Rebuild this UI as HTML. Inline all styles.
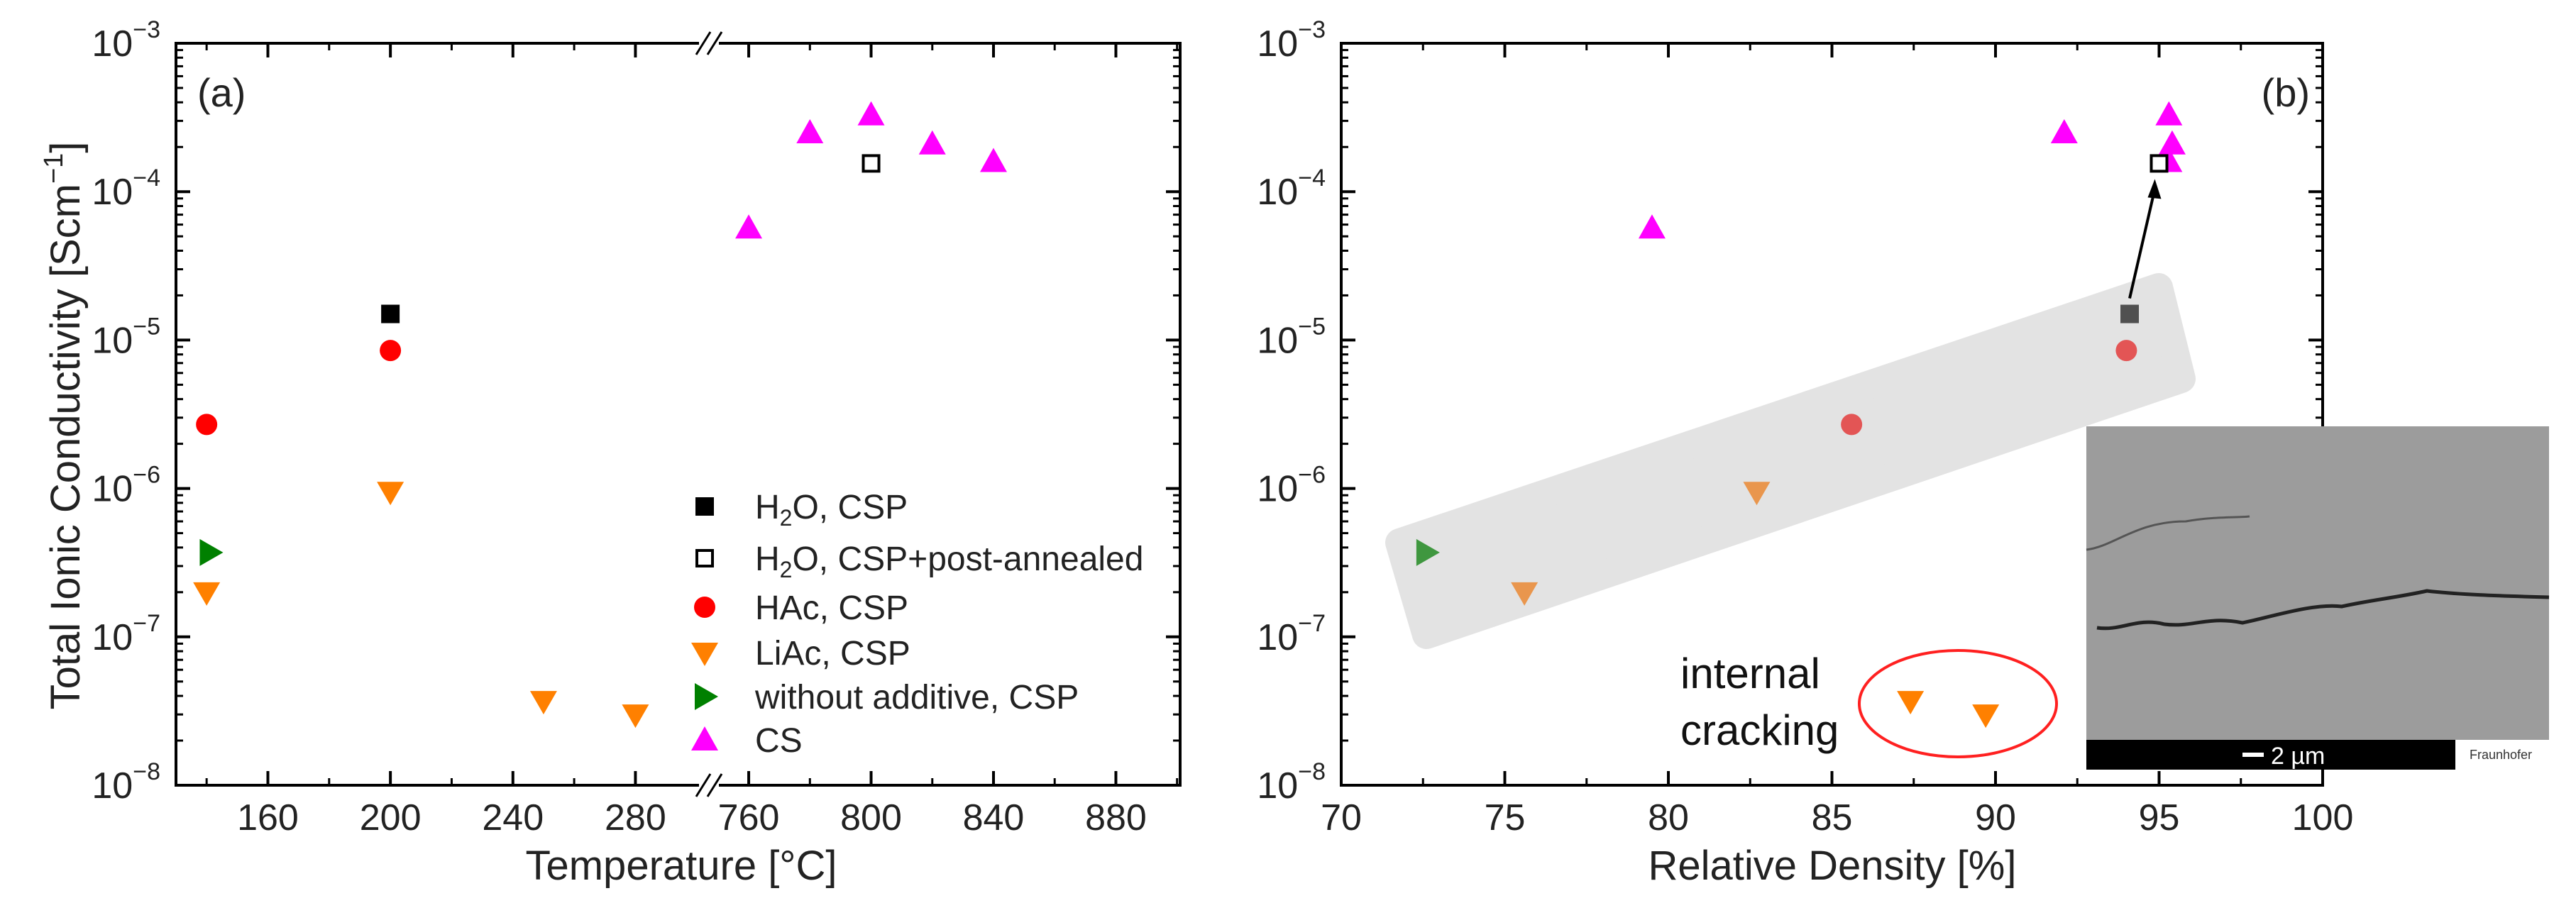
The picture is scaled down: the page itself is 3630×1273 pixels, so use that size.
<!DOCTYPE html>
<html><head><meta charset="utf-8"><style>
html,body{margin:0;padding:0;background:#fff;}
svg{display:block;font-family:"Liberation Sans",Arial,sans-serif;}
</style></head><body>
<svg id="fig" width="3630" height="1273" viewBox="0 0 3630 1273" xmlns="http://www.w3.org/2000/svg">
<g id="bg"></g>
<g id="axesA"></g><g id="axesB"></g><g id="marks"></g>
</svg>
<script>
// ---- data (panel a: temperature) ----
const h2oT=[200], h2oS=[1.5e-5];
const annT=[800], annS=[1.55e-4];
const hacT=[140,200], hacS=[2.7e-6,8.5e-6];
const liacT=[140,200,250,280], liacS=[2e-7,9.5e-7,3.7e-8,3e-8];
const noaddT=[141], noaddS=[3.7e-7];
const csT=[760,780,800,820,840], csS=[5.7e-5,2.5e-4,3.3e-4,2.1e-4,1.6e-4];
// ---- data (panel b: density) ----
const h2oD=[94.1], annD=[95.0], hacD=[85.6,94.0], liacD=[75.6,82.7,87.4,89.7], noaddD=[72.6], csD=[79.5,92.1,95.3,95.4,95.3];
const xTicksA1=[160,200,240,280], xTicksA2=[760,800,840,880];
const xTicksB=[70,75,80,85,90,95,100];
const yDecades=[-3,-4,-5,-6,-7,-8];
const legendLabels=["H2O, CSP","H2O, CSP+post-annealed","HAc, CSP","LiAc, CSP","without additive, CSP","CS"];

const NS="http://www.w3.org/2000/svg";
function mk(tag,attrs,parent,text){const e=document.createElementNS(NS,tag);for(const k in attrs)e.setAttribute(k,attrs[k]);if(text!==undefined)e.textContent=text;parent.appendChild(e);return e;}
const plotTop=61,plotBot=1107;
function y(v){return plotTop+(-3-Math.log10(v))*(plotBot-plotTop)/5;}
const AL=248,AB=999,AR=1663;
function xA(t){return t<=500? AL+(t-130)*(AB-AL)/(304-130) : AB+(t-747)*(AR-AB)/(901-747);}
const BL=1890,BR=3273;
function xB(d){return BL+(d-70)*(BR-BL)/30;}

const bg=document.getElementById('bg'),gA=document.getElementById('axesA'),gB=document.getElementById('axesB'),gm=document.getElementById('marks');

let band=mk('polygon',{points:"1972,765 3042,405 3074,534 2010,895",fill:"#e3e3e3",stroke:"#e3e3e3","stroke-width":"40","stroke-linejoin":"round"},bg);



function yAxis(g,L,R){
  for(const d of yDecades){
    const yy=y(Math.pow(10,d));
    mk('line',{x1:L,x2:L+20,y1:yy,y2:yy,stroke:"#000","stroke-width":4},g);
    mk('line',{x1:R,x2:R-20,y1:yy,y2:yy,stroke:"#000","stroke-width":4},g);
    if(d>-8)for(let m=2;m<10;m++){const y2=y(m*Math.pow(10,d-1));
      mk('line',{x1:L,x2:L+10,y1:y2,y2:y2,stroke:"#000","stroke-width":3},g);
      mk('line',{x1:R,x2:R-10,y1:y2,y2:y2,stroke:"#000","stroke-width":3},g);}
    const t=mk('text',{x:L-22,y:yy+18,"text-anchor":"end","font-size":52,fill:"#222"},g);
    
    
    t.appendChild(document.createTextNode('10'));
    mk('tspan',{dy:-26,"font-size":34},t,"\u2212"+(-d));
  }
}
function xTick(g,xx,label,minor){
  mk('line',{x1:xx,x2:xx,y1:plotBot,y2:plotBot-(minor?10:20),stroke:"#000","stroke-width":minor?3:4},g);
  mk('line',{x1:xx,x2:xx,y1:plotTop,y2:plotTop+(minor?10:20),stroke:"#000","stroke-width":minor?3:4},g);
  if(label!==null){const t=mk('text',{x:xx,y:1170,"text-anchor":"middle","font-size":52,fill:"#222"},g,label);
    
    }
}
let fa=mk('rect',{x:AL,y:plotTop,width:AR-AL,height:plotBot-plotTop,fill:"none",stroke:"#000","stroke-width":4},gA);


yAxis(gA,AL,AR);
for(const t of xTicksA1){xTick(gA,xA(t),String(t),false);xTick(gA,xA(t-20),null,true);}
for(const t of xTicksA2){xTick(gA,xA(t),String(t),false);xTick(gA,xA(t+20),null,true);}
mk('rect',{x:AB-14,y:plotTop-20,width:28,height:40,fill:"#fff"},gA);
mk('rect',{x:AB-14,y:plotBot-20,width:28,height:40,fill:"#fff"},gA);
for(const yy of [plotTop,plotBot]){for(const dx of [-8,8])mk('line',{x1:AB+dx-10,y1:yy+16,x2:AB+dx+10,y2:yy-16,stroke:"#000","stroke-width":3},gA);}
let ya=mk('text',{transform:"translate(112,600) rotate(-90)","text-anchor":"middle","font-size":58,fill:"#222"},gA);


ya.appendChild(document.createTextNode('Total Ionic Conductivity [Scm'));
mk('tspan',{dy:-24,"font-size":38},ya,'\u22121');
mk('tspan',{dy:24},ya,']');
let xa=mk('text',{x:960,y:1240,"text-anchor":"middle","font-size":58,fill:"#222"},gA,'Temperature [°C]');


let la=mk('text',{x:278,y:150,"font-size":56,fill:"#222"},gA,'(a)');



let fb=mk('rect',{x:BL,y:plotTop,width:BR-BL,height:plotBot-plotTop,fill:"none",stroke:"#000","stroke-width":4},gB);


yAxis(gB,BL,BR);
for(const t of xTicksB){xTick(gB,xB(t),String(t),false);if(t<100)xTick(gB,xB(t+2.5),null,true);}
let xb=mk('text',{x:2582,y:1240,"text-anchor":"middle","font-size":58,fill:"#222"},gB,'Relative Density [%]');


let lb=mk('text',{x:3255,y:150,"text-anchor":"end","font-size":56,fill:"#222"},gB,'(b)');



function marker(g,type,cx,cy,color,name){
  let e;
  if(type==='sq')e=mk('rect',{x:cx-13,y:cy-13,width:26,height:26,fill:color},g);
  else if(type==='osq')e=mk('rect',{x:cx-11,y:cy-11,width:22,height:22,fill:"#fff",stroke:"#000","stroke-width":4},g);
  else if(type==='ci')e=mk('circle',{cx:cx,cy:cy,r:15,fill:color},g);
  else if(type==='dn')e=mk('polygon',{points:`${cx-19},${cy-14} ${cx+19},${cy-14} ${cx},${cy+19}`,fill:color},g);
  else if(type==='up')e=mk('polygon',{points:`${cx-19},${cy+15} ${cx+19},${cy+15} ${cx},${cy-19}`,fill:color},g);
  else if(type==='rt')e=mk('polygon',{points:`${cx-14},${cy-19} ${cx-14},${cy+19} ${cx+19},${cy}`,fill:color},g);
  
  
  return e;
}
const seriesA=[['sq',h2oT,h2oS,'#000','h2o-csp-point'],['osq',annT,annS,'#000','h2o-annealed-point'],['ci',hacT,hacS,'#ff0000','hac-csp-point'],['dn',liacT,liacS,'#ff8000','liac-csp-point'],['rt',noaddT,noaddS,'#008000','no-additive-point'],['up',csT,csS,'#ff00ff','cs-point']];
for(const s of seriesA)for(let i=0;i<s[1].length;i++)marker(gm,s[0],xA(s[1][i]),y(s[2][i]),s[3],s[4]);
const seriesB=[['up',csD,csS,'#ff00ff','cs-point-b'],['sq',h2oD,h2oS,'#505050','h2o-csp-point-b'],['ci',hacD,hacS,'#e35555','hac-csp-point-b'],['dn',liacD,liacS,'#ff8000','liac-csp-point-b'],['rt',noaddD,noaddS,'#3f973f','no-additive-point-b']];
for(const s of seriesB)for(let i=0;i<s[1].length;i++){
  let c=s[3]; if(s[0]==='dn'&&i<2)c='#e9964d';
  marker(gm,s[0],xB(s[1][i]),y(s[2][i]),c,s[4]);}
marker(gm,'osq',xB(annD[0]),y(annS[0]),'#000','h2o-annealed-point-b');
const ax1=xB(h2oD[0]),ay1=y(h2oS[0])-22,ax2=xB(annD[0])-6,ay2=y(annS[0])+22;
let ar=mk('line',{x1:ax1,y1:ay1,x2:ax2,y2:ay2+14,stroke:"#000","stroke-width":4},gm);


mk('polygon',{points:`${ax2},${ay2} ${ax2-10},${ay2+26} ${ax2+9},${ay2+28}`,fill:"#000"},gm);

const legTypes=[['sq','#000'],['osq','#000'],['ci','#ff0000'],['dn','#ff8000'],['rt','#008000'],['up','#ff00ff']];
const legY=[714,787,856,920,982,1043];
for(let i=0;i<6;i++){
  marker(gm,legTypes[i][0],993,legY[i],legTypes[i][1],'legend-marker');
  const t=mk('text',{x:1064,y:legY[i]+17,"font-size":48,fill:"#222"},gm);
  
  
  const lab=legendLabels[i];
  if(lab.startsWith('H2O')){t.appendChild(document.createTextNode('H'));mk('tspan',{dy:10,"font-size":32},t,'2');mk('tspan',{dy:-10},t,'O'+lab.slice(3));}
  else t.textContent=lab;
}
let el=mk('ellipse',{cx:2759,cy:992,rx:139,ry:75,fill:"none",stroke:"#ff2020","stroke-width":4},gm);


let a1=mk('text',{x:2368,y:970,"font-size":60,fill:"#111"},gm,'internal');


let a2=mk('text',{x:2368,y:1050,"font-size":60,fill:"#111"},gm,'cracking');



const ins=mk('g',{},gm);


mk('rect',{x:2940,y:601,width:652,height:442,fill:"#9c9c9c"},ins);
mk('path',{d:"M2955,885 C2990,890 3010,870 3050,880 C3090,885 3110,868 3160,878 C3200,870 3260,850 3300,855 C3340,846 3380,842 3420,833 C3460,838 3520,840 3592,842",fill:"none",stroke:"#222","stroke-width":5},ins);
mk('path',{d:"M2940,775 C2980,770 3010,735 3080,735 C3120,728 3150,730 3170,728",fill:"none",stroke:"#555","stroke-width":3},ins);
mk('rect',{x:2940,y:1043,width:520,height:42,fill:"#000"},ins);
mk('rect',{x:3460,y:1043,width:132,height:42,fill:"#fff"},ins);
mk('rect',{x:3160,y:1061,width:30,height:6,fill:"#fff"},ins);
const sb=mk('text',{x:3200,y:1077,"font-size":34,fill:"#fff"},ins,'2 µm');


const fr=mk('text',{x:3480,y:1070,"font-size":18,fill:"#333"},ins,'Fraunhofer');


</script>
</body></html>
